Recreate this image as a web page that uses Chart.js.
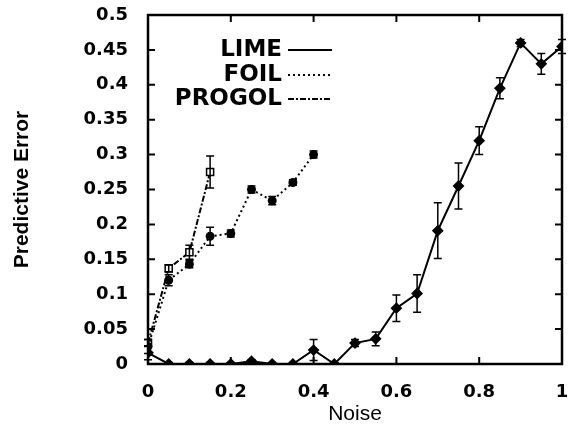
<!DOCTYPE html>
<html>
<head>
<meta charset="utf-8">
<script src="https://cdn.jsdelivr.net/npm/chart.js@4.4.0/dist/chart.umd.min.js"></script>
<style>
  html, body { margin: 0; padding: 0; background: #fff; }
  #wrap { width: 571px; height: 429px; }
</style>
</head>
<body>
<div id="wrap"><canvas id="chart"></canvas></div>
<script>
// data
const limeNoise = [0, 0.05, 0.1, 0.15, 0.2, 0.25, 0.3, 0.35, 0.4, 0.45, 0.5, 0.55, 0.6, 0.65, 0.7, 0.75, 0.8, 0.85, 0.9, 0.95, 1];
const limeError = [0.016, 0, 0, 0, 0, 0.004, 0, 0, 0.02, 0, 0.03, 0.036, 0.08, 0.101, 0.191, 0.255, 0.32, 0.395, 0.46, 0.43, 0.455];
const limeSpread = [0.01, 0.002, 0.002, 0.002, 0.002, 0.002, 0.002, 0.002, 0.015, 0.002, 0.005, 0.01, 0.019, 0.027, 0.04, 0.033, 0.02, 0.015, 0.005, 0.015, 0.01];

const foilNoise = [0, 0.05, 0.1, 0.15, 0.2, 0.25, 0.3, 0.35, 0.4];
const foilError = [0.025, 0.12, 0.143, 0.183, 0.187, 0.25, 0.234, 0.26, 0.30];
const foilSpread = [0.01, 0.008, 0.005, 0.013, 0.005, 0.005, 0.006, 0.004, 0.005];

const progolNoise = [0, 0.05, 0.1, 0.15];
const progolError = [0.03, 0.137, 0.16, 0.275];
const progolSpread = [0.005, 0.005, 0.01, 0.023];

const xTicks = [0, 0.2, 0.4, 0.6, 0.8, 1];
const xTickLabels = ['0', '0.2', '0.4', '0.6', '0.8', '1'];
const yTicks = [0, 0.05, 0.1, 0.15, 0.2, 0.25, 0.3, 0.35, 0.4, 0.45, 0.5];
const yTickLabels = ['0', '0.05', '0.1', '0.15', '0.2', '0.25', '0.3', '0.35', '0.4', '0.45', '0.5'];

const toPoints = (xs, ys) => xs.map((x, i) => ({ x: x, y: ys[i] }));

// error bars drawn through the scales
const errorBars = {
    id: 'errorBars',
    afterDatasetsDraw(chart) {
        const ctx = chart.ctx;
        const xs = chart.scales.x, ys = chart.scales.y;
        ctx.save();
        ctx.strokeStyle = '#000';
        ctx.lineWidth = 1.5;
        chart.data.datasets.forEach(ds => {
            ds.data.forEach((p, i) => {
                const e = ds.spread[i];
                const px = xs.getPixelForValue(p.x);
                const top = ys.getPixelForValue(p.y + e);
                const bot = ys.getPixelForValue(Math.max(0, p.y - e));
                ctx.beginPath();
                ctx.moveTo(px, top); ctx.lineTo(px, bot);
                ctx.moveTo(px - 4, top); ctx.lineTo(px + 4, top);
                ctx.moveTo(px - 4, bot); ctx.lineTo(px + 4, bot);
                ctx.stroke();
            });
        });
        ctx.restore();
    }
};

// box frame with inward ticks on all sides
const frame = {
    id: 'frame',
    afterDraw(chart) {
        const ctx = chart.ctx;
        const a = chart.chartArea;
        const xs = chart.scales.x, ys = chart.scales.y;
        ctx.save();
        ctx.strokeStyle = '#000';
        ctx.lineWidth = 2.5;
        ctx.strokeRect(a.left, a.top, a.right - a.left, a.bottom - a.top);
        ctx.lineWidth = 2;
        ctx.beginPath();
        xTicks.forEach(v => {
            const px = xs.getPixelForValue(v);
            ctx.moveTo(px, a.bottom); ctx.lineTo(px, a.bottom - 7);
            ctx.moveTo(px, a.top); ctx.lineTo(px, a.top + 7);
        });
        yTicks.forEach(v => {
            const py = ys.getPixelForValue(v);
            ctx.moveTo(a.left, py); ctx.lineTo(a.left + 7, py);
            ctx.moveTo(a.right, py); ctx.lineTo(a.right - 7, py);
        });
        ctx.stroke();

        // legend
        ctx.font = 'bold 23px "DejaVu Sans"';
        ctx.fillStyle = '#000';
        ctx.textAlign = 'right';
        ctx.textBaseline = 'middle';
        const rows = [50, 75, 99];
        chart.data.datasets.forEach((ds, i) => {
            const y = rows[i];
            ctx.fillText(ds.label, 282, y);
            ctx.lineWidth = 1.8;
            ctx.setLineDash(ds.borderDash || []);
            ctx.beginPath();
            ctx.moveTo(288, y); ctx.lineTo(332, y);
            ctx.stroke();
            ctx.setLineDash([]);
        });
        ctx.restore();
    }
};

const tickFont = { family: 'DejaVu Sans', size: 18, weight: 'bold' };

new Chart(document.getElementById('chart'), {
    type: 'scatter',
    data: {
        datasets: [
            {
                label: 'LIME',
                data: toPoints(limeNoise, limeError),
                spread: limeSpread,
                showLine: true,
                borderColor: '#000',
                borderWidth: 2,
                backgroundColor: '#000',
                pointStyle: 'rectRot',
                pointRadius: 4.5,
            },
            {
                label: 'FOIL',
                data: toPoints(foilNoise, foilError),
                spread: foilSpread,
                showLine: true,
                borderColor: '#000',
                borderWidth: 2,
                borderDash: [2, 3],
                backgroundColor: '#000',
                pointStyle: 'circle',
                pointRadius: 3.5,
            },
            {
                label: 'PROGOL',
                data: toPoints(progolNoise, progolError),
                spread: progolSpread,
                showLine: true,
                borderColor: '#000',
                borderWidth: 2,
                borderDash: [6, 2, 2, 2],
                backgroundColor: '#fff',
                pointStyle: 'rect',
                pointRadius: 5,
                pointBorderWidth: 1.5,
            }
        ]
    },
    options: {
        responsive: true,
        maintainAspectRatio: false,
        animation: false,
        layout: { autoPadding: false, padding: { top: 15, right: 9, left: 0, bottom: 0 } },
        plugins: {
            legend: { display: false },
            tooltip: { enabled: false }
        },
        scales: {
            x: {
                type: 'linear',
                min: 0,
                max: 1,
                afterBuildTicks: s => { s.ticks = xTicks.map(v => ({ value: v })); },
                afterFit: s => { s.height = 65; s.paddingLeft = 0; s.paddingRight = 0; },
                grid: { display: false, drawTicks: false },
                border: { display: false },
                ticks: {
                    padding: 18,
                    color: '#000',
                    font: tickFont,
                    maxRotation: 0,
                    callback: (v, i) => xTickLabels[i]
                },
                title: {
                    display: true,
                    text: 'Noise',
                    color: '#000',
                    font: { family: 'Liberation Sans', size: 21 },
                    padding: { top: 0, bottom: 2 }
                }
            },
            y: {
                type: 'linear',
                min: 0,
                max: 0.5,
                afterBuildTicks: s => { s.ticks = yTicks.map(v => ({ value: v })); },
                afterFit: s => { s.width = 148; s.paddingTop = 0; s.paddingBottom = 0; },
                grid: { display: false, drawTicks: false },
                border: { display: false },
                ticks: {
                    padding: 20,
                    color: '#000',
                    font: tickFont,
                    callback: (v, i) => yTickLabels[i]
                },
                title: {
                    display: true,
                    text: 'Predictive Error',
                    color: '#000',
                    font: { family: 'Liberation Sans', size: 21, weight: 'bold' },
                    padding: { top: 10, bottom: 0 }
                }
            }
        }
    },
    plugins: [errorBars, frame]
});
</script>
</body>
</html>
